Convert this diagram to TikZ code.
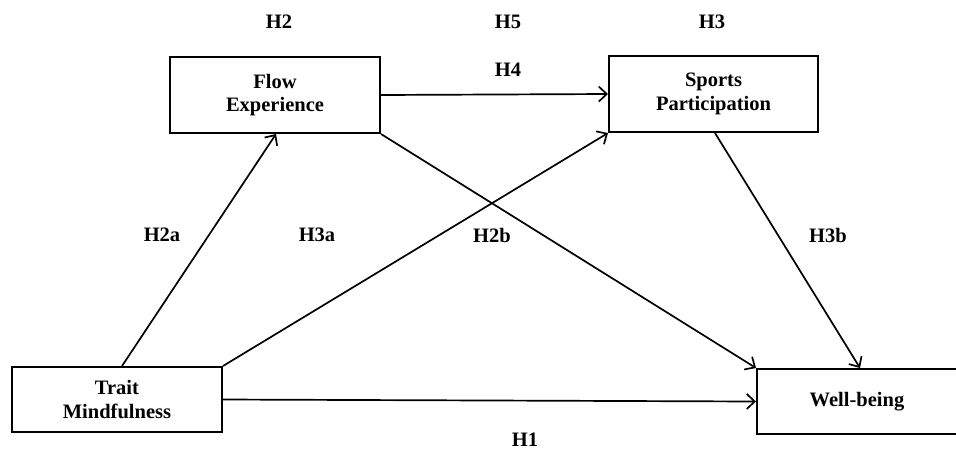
\documentclass[tikz,border=0pt]{standalone}
\usepackage{fontspec}
\setmainfont{Liberation Serif}
\usetikzlibrary{arrows.meta}
\begin{document}
\begin{tikzpicture}[x=1pt,y=-1pt,
  box/.style={draw,line width=2pt,rectangle,align=center,font=\fontsize{20.5}{23.5}\selectfont\bfseries,inner sep=0pt},
  lbl/.style={font=\fontsize{20.5}{23.5}\selectfont\bfseries,inner sep=0pt},
  arr/.style={line width=1.7pt,-{Straight Barb[length=8pt,width=15pt,line width=1.7pt]}}]
\useasboundingbox (0,0) rectangle (956,451);
\node[box,minimum width=210,minimum height=76] (flow) at (275,95) {Flow\\Experience};
\node[box,minimum width=209,minimum height=76] (sport) at (713.5,94) {Sports\\Participation};
\node[box,minimum width=210,minimum height=65] (trait) at (117,399.5) {Trait\\Mindfulness};
\node[box,minimum width=212,minimum height=65] (well) at (863,401.5) {};
\node[lbl] (wtext) at (857,401.5) {Well-being};
\node[lbl] (h2) at (279,22) {H2};
\node[lbl] (h5) at (508,22) {H5};
\node[lbl] (h3) at (712,22) {H3};
\node[lbl] (h4) at (508,70) {H4};
\node[lbl] (h2a) at (162,235) {H2a};
\node[lbl] (h3a) at (317,235) {H3a};
\node[lbl] (h2b) at (492,235) {H2b};
\node[lbl] (h3b) at (828,235) {H3b};
\node[lbl] (h1) at (525,440) {H1};
\draw[arr] ([xshift=5]trait.north) -- ([xshift=1]flow.south);
\draw[arr] (trait.north east) -- (sport.south west);
\draw[arr] (trait.east) -- (well.west);
\draw[arr] (flow.south east) -- (well.north west);
\draw[arr] ([xshift=1.5]sport.south) -- ([xshift=-3]well.north);
\draw[arr] (flow.east) -- (sport.west);
\end{tikzpicture}
\end{document}
